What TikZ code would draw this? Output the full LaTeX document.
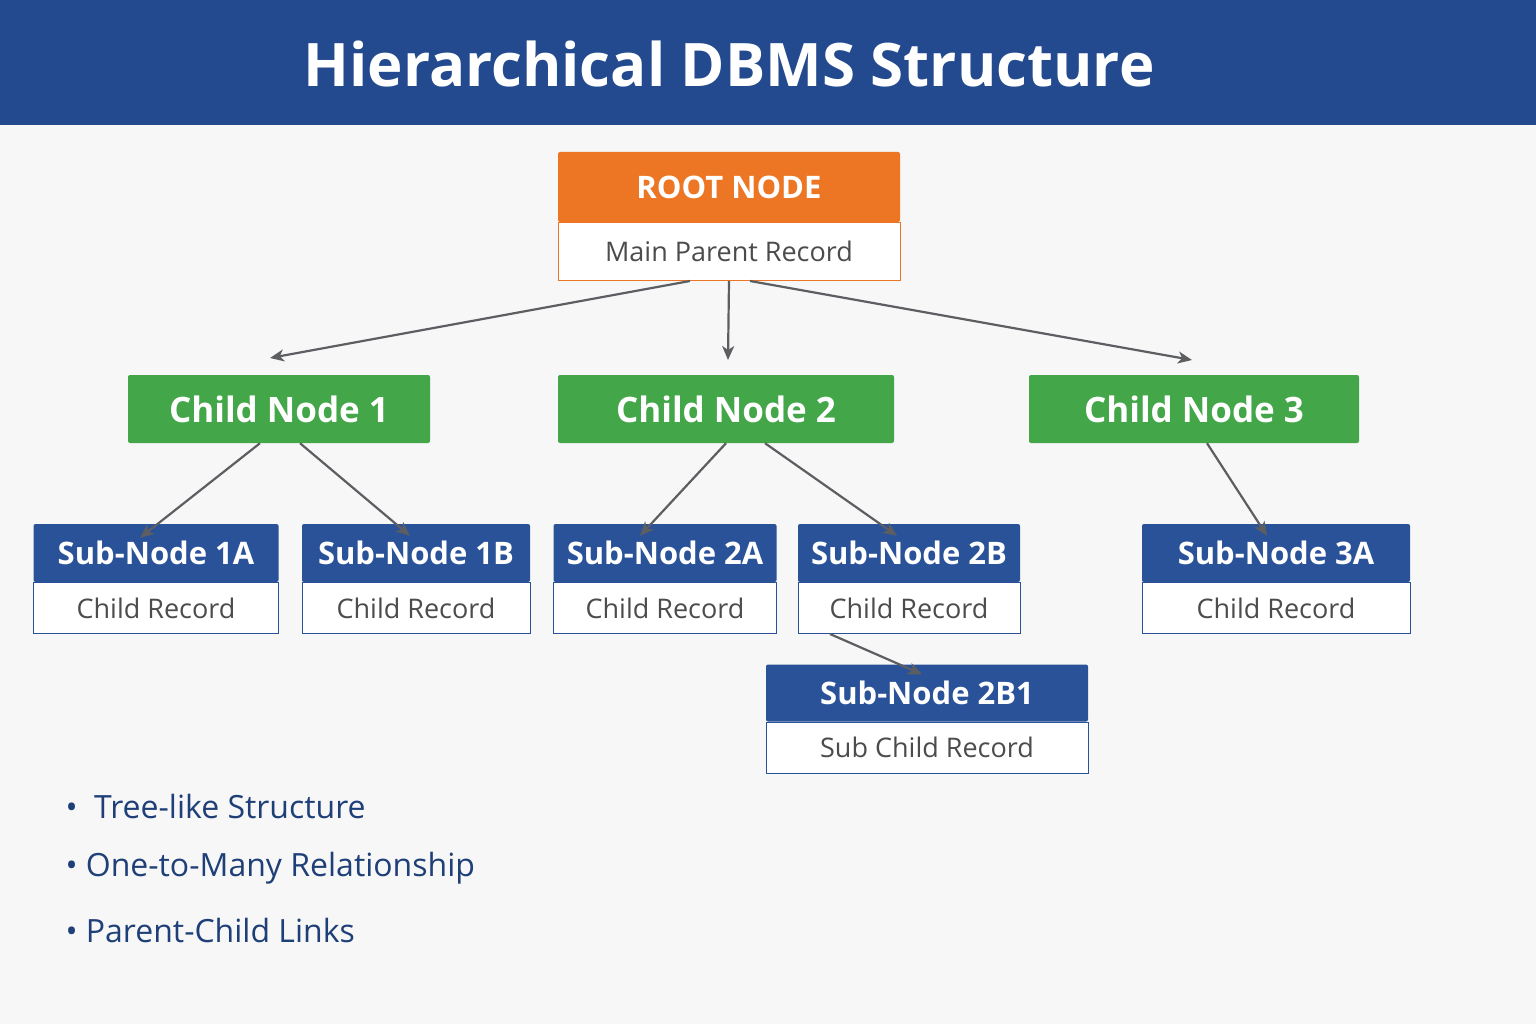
\documentclass[tikz,border=0pt]{standalone}
\usepackage{fontspec}
\setmainfont{Open Sans}
\usetikzlibrary{arrows.meta, positioning}
\definecolor{bandblue}{HTML}{234A8E}
\definecolor{rootorange}{HTML}{EC7623}
\definecolor{childgreen}{HTML}{43A648}
\definecolor{subblue}{HTML}{2A5298}
\definecolor{linegray}{HTML}{5C5E62}
\definecolor{textblue}{HTML}{1F3F78}

\begin{document}
\begin{tikzpicture}[
    x=1pt, y=-1pt,
    head/.style={rectangle, rounded corners=2pt, inner sep=0pt, text=white, font=\bfseries\fontsize{31}{36}\selectfont},
    body/.style={rectangle, draw, thick, fill=white, inner sep=0pt, text=black!70, font=\fontsize{27}{32}\selectfont},
    child/.style={rectangle, rounded corners=2pt, fill=childgreen, minimum height=68pt, inner sep=0pt, text=white, font=\bfseries\fontsize{35}{40}\selectfont},
    arrow/.style={-{Stealth[length=14pt, width=12pt, inset=4pt]}, line width=2.2pt, draw=linegray},
    bullet/.style={anchor=west, text=textblue, font=\fontsize{32}{38}\selectfont}
]
\useasboundingbox (0,0) rectangle (1536,1024);
\fill[black!3] (0,0) rectangle (1536,1024);
\fill[bandblue] (0,0) rectangle (1536,125);
\node[text=white, font=\bfseries\fontsize{60}{70}\selectfont] (title) at (729,64) {Hierarchical DBMS Structure};

% Root
\node[head, fill=rootorange, minimum width=342pt, minimum height=70pt] (root) at (729,187) {ROOT NODE};
\node[body, draw=rootorange, minimum width=342pt, minimum height=58pt, below=0pt of root] (rootb) {Main Parent Record};

% Children
\node[child, minimum width=302pt] (c1) at (279,409) {Child Node 1};
\node[child, minimum width=336pt] (c2) at (726,409) {Child Node 2};
\node[child, minimum width=330pt] (c3) at (1194,409) {Child Node 3};

% Sub nodes
\foreach \nm/\cx/\w/\lab in {s1a/156/245/1A, s1b/416/228/1B, s2a/665/223/2A, s2b/909/222/2B, s3a/1276/268/3A}{
  \node[head, fill=subblue, minimum width=\w pt, minimum height=58pt] (\nm) at (\cx,553) {Sub-Node \lab};
  \node[body, draw=subblue, minimum width=\w pt, minimum height=51pt, below=0pt of \nm] (\nm b) {Child Record};
}
\node[head, fill=subblue, minimum width=322pt, minimum height=57pt] (s2b1) at (927,693) {Sub-Node 2B1};
\node[body, draw=subblue, minimum width=322pt, minimum height=51pt, below=0pt of s2b1] (s2b1b) {Sub Child Record};

% Arrows
\coordinate (a1) at (270,358);
\coordinate (a2) at (728,360);
\coordinate (a3) at (1192,360);
\draw[arrow] ([xshift=-39pt]rootb.south) -- (a1);
\draw[arrow] (rootb.south) -- (a2);
\draw[arrow] ([xshift=21pt]rootb.south) -- (a3);
\draw[arrow] ([xshift=-19pt]c1.south) -- ([xshift=-16pt,yshift=-14pt]s1a.north);
\draw[arrow] ([xshift=21pt]c1.south) -- ([xshift=-6pt,yshift=-12pt]s1b.north);
\draw[arrow] (c2.south) -- ([xshift=-25pt,yshift=-12pt]s2a.north);
\draw[arrow] ([xshift=39pt]c2.south) -- ([xshift=-12pt,yshift=-12pt]s2b.north);
\draw[arrow] ([xshift=13pt]c3.south) -- ([xshift=-9pt,yshift=-12pt]s3a.north);
\draw[arrow] ([xshift=-79pt]s2bb.south) -- ([xshift=-5pt,yshift=-10pt]s2b1.north);

% Notes
\node[bullet] (n1) at (62,806) {\textbullet\ \ Tree-like Structure};
\node[bullet] (n2) at (62,868) {\textbullet\ One-to-Many Relationship};
\node[bullet] (n3) at (62,930) {\textbullet\ Parent-Child Links};
\end{tikzpicture}
\end{document}
